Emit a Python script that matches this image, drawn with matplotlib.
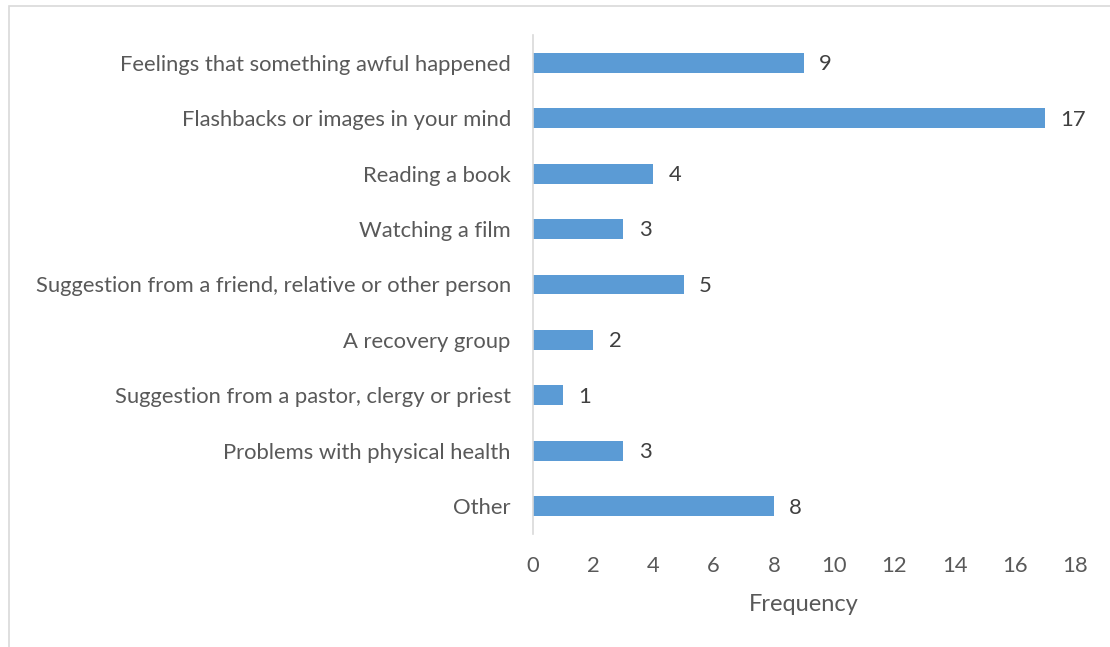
import matplotlib.pyplot as plt
from matplotlib.patches import Rectangle

# Reasons for seeking help, top to bottom as drawn
reasons = ['Feelings that something awful happened',
           'Flashbacks or images in your mind',
           'Reading a book',
           'Watching a film',
           'Suggestion from a friend, relative or other person',
           'A recovery group',
           'Suggestion from a pastor, clergy or priest',
           'Problems with physical health',
           'Other']
counts = [9, 17, 4, 3, 5, 2, 1, 3, 8]
xticks = [0, 2, 4, 6, 8, 10, 12, 14, 16, 18]

text_col = '#595959'
bar_col = '#5b9bd5'
plt.rcParams['font.family'] = ['Lato', 'DejaVu Sans']
fs = 15.8

fig = plt.figure(figsize=(11.10, 6.47), dpi=100)
ax = fig.add_axes([533 / 1110, 1 - 534 / 647, (1075 - 533) / 1110, (534 - 35) / 647])

pos = list(range(len(reasons)))[::-1]
ax.barh(pos, counts, height=0.36, color=bar_col)
for p, c in zip(pos, counts):
    ax.annotate(str(c), (c, p), xytext=(11, -1), textcoords='offset points',
                ha='left', va='center', fontsize=fs, color='#404040')

ax.set_ylim(-0.5, len(reasons) - 0.5)
ax.set_xlim(0, 18)
ax.set_yticks(pos)
ax.set_yticklabels(reasons, fontsize=fs, color=text_col)
ax.set_xticks(xticks)
ax.set_xticklabels([str(t) for t in xticks], fontsize=fs, color=text_col)
ax.tick_params(axis='both', length=0)
ax.tick_params(axis='y', pad=16)
ax.tick_params(axis='x', pad=16)
for s in ['top', 'right', 'bottom']:
    ax.spines[s].set_visible(False)
ax.spines['left'].set_color('#d9d9d9')
ax.spines['left'].set_linewidth(1.2)
ax.set_xlabel('Frequency', fontsize=17, color=text_col, labelpad=13)

# thin frame round the chart area
fig.patches.append(Rectangle((9 / 1110, -0.05), 1.0, 1.05 - 6 / 647,
                             transform=fig.transFigure, fill=False,
                             edgecolor='#d9d9d9', linewidth=1.2))

fig.savefig('out.png', dpi=100)
